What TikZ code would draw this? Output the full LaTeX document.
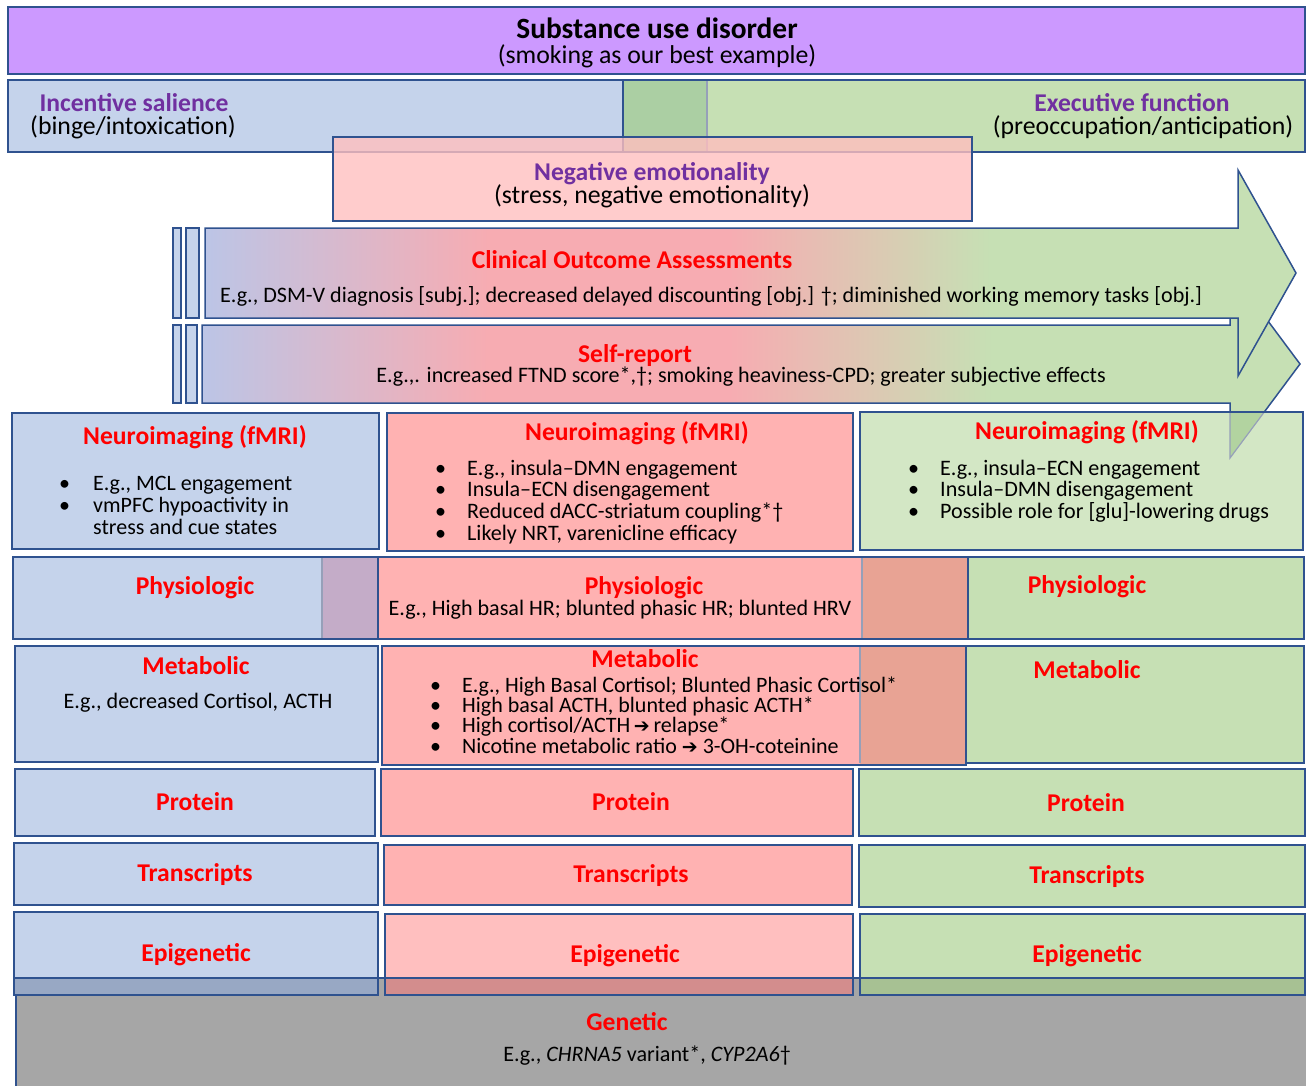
\documentclass[tikz,border=0pt]{standalone}
\usepackage{fontspec}
\setmainfont{Carlito}
\newfontfamily\djv{DejaVu Sans}
\definecolor{lineC}{RGB}{47,82,143}
\definecolor{faintC}{RGB}{150,160,185}
\definecolor{purpleF}{RGB}{204,153,255}
\definecolor{blueF}{RGB}{197,211,235}
\definecolor{greenF}{RGB}{198,224,180}
\definecolor{greenL}{RGB}{211,231,197}
\definecolor{pinkN}{RGB}{255,191,191}
\definecolor{pinkF}{RGB}{255,178,178}
\definecolor{grayF}{RGB}{166,166,166}
\definecolor{titleRed}{RGB}{255,0,0}
\definecolor{purpleT}{RGB}{112,48,160}
\definecolor{arrBlue}{RGB}{188,197,230}
\definecolor{arrPink}{RGB}{247,172,178}
\definecolor{ovGreen}{RGB}{171,207,163}
\definecolor{ovLav}{RGB}{196,172,200}
\definecolor{ovSalmon}{RGB}{232,163,148}
\definecolor{ovArrow}{RGB}{178,211,160}
\definecolor{ovGB}{RGB}{152,168,196}
\definecolor{ovGP}{RGB}{211,141,141}
\definecolor{ovGG}{RGB}{167,193,147}
\pgfdeclarehorizontalshading{arrowshade}{100bp}{color(0bp)=(arrBlue); color(25bp)=(arrBlue); color(38bp)=(arrPink); color(49bp)=(arrPink); color(61bp)=(greenF); color(100bp)=(greenF)}
\newcommand{\bitem}[2]{\hbox{\makebox[#1][l]{\textbullet}#2}}
\newcommand{\blines}[1]{\vtop{\lineskiplimit=-100pt\lineskip=0pt #1}}
\newcommand{\harr}{{\djv\fontsize{19}{20}\selectfont ➔}}
\tikzset{
  bx/.style={draw=lineC, line width=1.5pt},
  fbx/.style={draw=faintC, line width=1.2pt},
  ttl/.style={text=titleRed, font=\fontsize{25.6}{28}\selectfont\bfseries, anchor=base, inner sep=0pt},
  hdr/.style={text=purpleT, font=\fontsize{25.6}{28}\selectfont\bfseries, anchor=base, inner sep=0pt},
  sub/.style={text=black, font=\fontsize{25.8}{28}\selectfont, anchor=base, inner sep=0pt},
  bod/.style={text=black, font=\fontsize{22.1}{23}\selectfont, anchor=base, inner sep=0pt},
  lst/.style={text=black, anchor=base west, inner sep=0pt},
  arrowbody/.style={shading=arrowshade, draw=lineC, line width=1.5pt}
}
\begin{document}
\begin{tikzpicture}[x=1pt,y=-1pt]
\useasboundingbox (0,0) rectangle (1306,1085);
% ---------- top ----------
\path[bx, fill=purpleF] (8,7) rectangle (1305,74);
\node[text=black, font=\fontsize{29.4}{32}\selectfont\bfseries, anchor=base, inner sep=0pt] (sud) at (657,38) {Substance use disorder};
\node[sub] (sudsub) at (657,63) {(smoking as our best example)};
\path[bx, fill=blueF] (8,80) rectangle (707,152);
\path[bx, fill=greenF] (623,80) rectangle (1305,152);
\fill[ovGreen] (624,81) rectangle (706,151);
\draw[faintC, line width=1.2pt] (707,81) -- (707,151);
\node[hdr] (isal) at (134,111) {Incentive salience};
\node[sub] (isalsub) at (133,134) {(binge/intoxication)};
\node[hdr] (exf) at (1132,111) {Executive function};
\node[sub] (exfsub) at (1143,134) {(preoccupation/anticipation)};
\path[bx, fill=pinkN, fill opacity=0.8] (333,137) rectangle (972,221);
\node[hdr] (nemo) at (652,180) {Negative emotionality};
\node[sub] (nemosub) at (652,203) {(stress, negative emotionality)};
% ---------- side bars ----------
\path[bx, fill=blueF, line width=1.2pt] (173,228) rectangle (181,318);
\path[bx, fill=blueF, line width=1.2pt] (186,228) rectangle (199,318);
\path[bx, fill=blueF, line width=1.2pt] (173,325) rectangle (181,403);
\path[bx, fill=blueF, line width=1.2pt] (186,325) rectangle (197,403);
% ---------- arrows ----------
\path[arrowbody] (202,325) -- (1230,325) -- (1230,270) -- (1300,364) -- (1230,458) -- (1230,403) -- (202,403) -- cycle;
\path[arrowbody] (205,228) -- (1238,228) -- (1238,170) -- (1296,273) -- (1238,376) -- (1238,318) -- (205,318) -- cycle;
\node[ttl] (coa) at (632,268) {Clinical Outcome Assessments};
\node[bod, anchor=base west] (coatxt) at (220,302) {E.g., DSM-V diagnosis [subj.]; decreased delayed discounting [obj.] †; diminished working memory tasks [obj.]};
\node[ttl] (sr) at (635,362) {Self-report};
\node[bod] (srtxt) at (741,382) {E.g.,. increased FTND score*,†; smoking heaviness-CPD; greater subjective effects};
% ---------- neuroimaging ----------
\path[bx, fill=blueF] (12,413) rectangle (379,549);
\path[bx, fill=pinkF] (387,413) rectangle (853,551);
\path[bx, fill=greenL] (860,412) rectangle (1303,550);
\begin{scope}
  \clip (860,412) rectangle (1303,550);
  \fill[ovArrow] (1230,403) -- (1230,458) -- (1300,364) -- (1230,270) -- cycle;
  \draw[faintC, line width=1.2pt] (1230,403) -- (1230,458) -- (1300,364);
\end{scope}
\draw[lineC, line width=1.5pt] (860,412) -- (1303,412);
\node[ttl] (nib) at (195,444) {Neuroimaging (fMRI)};
\node[lst, font=\fontsize{22}{22}\selectfont] (nibl) at (59,490) {\blines{\bitem{34pt}{E.g., MCL engagement}\bitem{34pt}{vmPFC hypoactivity in}\hbox{\hspace*{34pt}stress and cue states}}};
\node[ttl] (nip) at (637,440) {Neuroimaging (fMRI)};
\node[lst, font=\fontsize{22.1}{21.7}\selectfont] (nipl) at (435,475) {\blines{\bitem{32pt}{E.g., insula–DMN engagement}\bitem{32pt}{Insula–ECN disengagement}\bitem{32pt}{Reduced dACC-striatum coupling*†}\bitem{32pt}{Likely NRT, varenicline efficacy}}};
\node[ttl] (nig) at (1087,439) {Neuroimaging (fMRI)};
\node[lst, font=\fontsize{22.1}{21.5}\selectfont] (nigl) at (908,475) {\blines{\bitem{32pt}{E.g., insula–ECN engagement}\bitem{32pt}{Insula–DMN disengagement}\bitem{32pt}{Possible role for [glu]-lowering drugs}}};
% ---------- physiologic ----------
\fill[blueF] (13,557) rectangle (378,639);
\fill[greenF] (862,557) rectangle (1304,639);
\fill[pinkF] (322,557) rectangle (968,639);
\fill[ovLav] (322,557) rectangle (378,639);
\fill[ovSalmon] (862,557) rectangle (968,639);
\draw[fbx] (322,557) -- (322,639);
\draw[fbx] (862,557) -- (862,639);
\path[bx] (13,557) rectangle (378,639);
\path[bx] (322,557) -- (968,557) -- (968,639) -- (322,639);
\path[bx] (968,557) -- (1304,557) -- (1304,639) -- (968,639);
\node[ttl] (phb) at (195,594) {Physiologic};
\node[ttl] (php) at (644,594) {Physiologic};
\node[bod] (phptxt) at (620,615) {E.g., High basal HR; blunted phasic HR; blunted HRV};
\node[ttl] (phg) at (1087,593) {Physiologic};
% ---------- metabolic ----------
\path[bx, fill=blueF] (15,646) rectangle (378,762);
\fill[greenF] (860,646) rectangle (1304,763);
\fill[pinkF] (382,646) rectangle (966,765);
\fill[ovSalmon] (860,647) rectangle (966,764);
\draw[fbx] (860,646) -- (860,763);
\path[bx] (382,646) rectangle (966,765);
\path[bx] (966,646) -- (1304,646) -- (1304,763) -- (966,763);
\node[ttl] (meb) at (196,674) {Metabolic};
\node[bod] (mebtxt) at (198,708) {E.g., decreased Cortisol, ACTH};
\node[ttl] (mep) at (645,667) {Metabolic};
\node[lst, font=\fontsize{22}{20.4}\selectfont] (mepl) at (430,692) {\blines{\bitem{32pt}{E.g., High Basal Cortisol; Blunted Phasic Cortisol*}\bitem{32pt}{High basal ACTH, blunted phasic ACTH*}\bitem{32pt}{High cortisol/ACTH\,\harr\,relapse*}\bitem{32pt}{Nicotine metabolic ratio \harr{} 3-OH-coteinine}}};
\node[ttl] (meg) at (1087,678) {Metabolic};
% ---------- protein ----------
\path[bx, fill=blueF] (15,769) rectangle (375,836);
\path[bx, fill=pinkF] (381,769) rectangle (853,836);
\path[bx, fill=greenF] (859,769) rectangle (1305,836);
\node[ttl] (prb) at (195,810) {Protein};
\node[ttl] (prp) at (631,810) {Protein};
\node[ttl] (prg) at (1086,811) {Protein};
% ---------- transcripts ----------
\path[bx, fill=blueF] (14,843) rectangle (378,905);
\path[bx, fill=pinkF] (384,845) rectangle (852,905);
\path[bx, fill=greenF] (859,845) rectangle (1305,907);
\node[ttl] (trb) at (195,881) {Transcripts};
\node[ttl] (trp) at (631,882) {Transcripts};
\node[ttl] (trg) at (1087,883) {Transcripts};
% ---------- epigenetic ----------
\path[bx, fill=blueF] (14,912) rectangle (378,995);
\path[bx, fill=pinkN] (385,914) rectangle (853,995);
\path[bx, fill=greenF] (860,914) rectangle (1305,995);
\node[ttl] (epb) at (196,961) {Epigenetic};
\node[ttl] (epp) at (625,962) {Epigenetic};
\node[ttl] (epg) at (1087,962) {Epigenetic};
% ---------- genetic ----------
\path[bx, fill=grayF] (16,978) rectangle (1312,1092);
\fill[ovGB] (14,978) rectangle (378,995);
\fill[ovGP] (385,978) rectangle (853,995);
\fill[ovGG] (860,978) rectangle (1305,995);
\path[bx] (14,978) -- (14,995) -- (378,995) -- (378,978);
\path[bx] (385,978) -- (385,995) -- (853,995) -- (853,978);
\path[bx] (860,978) -- (860,995) -- (1305,995) -- (1305,978);
\draw[lineC, line width=1.5pt] (14,978) -- (1306,978);
\node[ttl] (gen) at (627,1030) {Genetic};
\node[bod] (gentxt) at (647,1061) {E.g., \textit{CHRNA5} variant*, \textit{CYP2A6}†};
\end{tikzpicture}
\end{document}
